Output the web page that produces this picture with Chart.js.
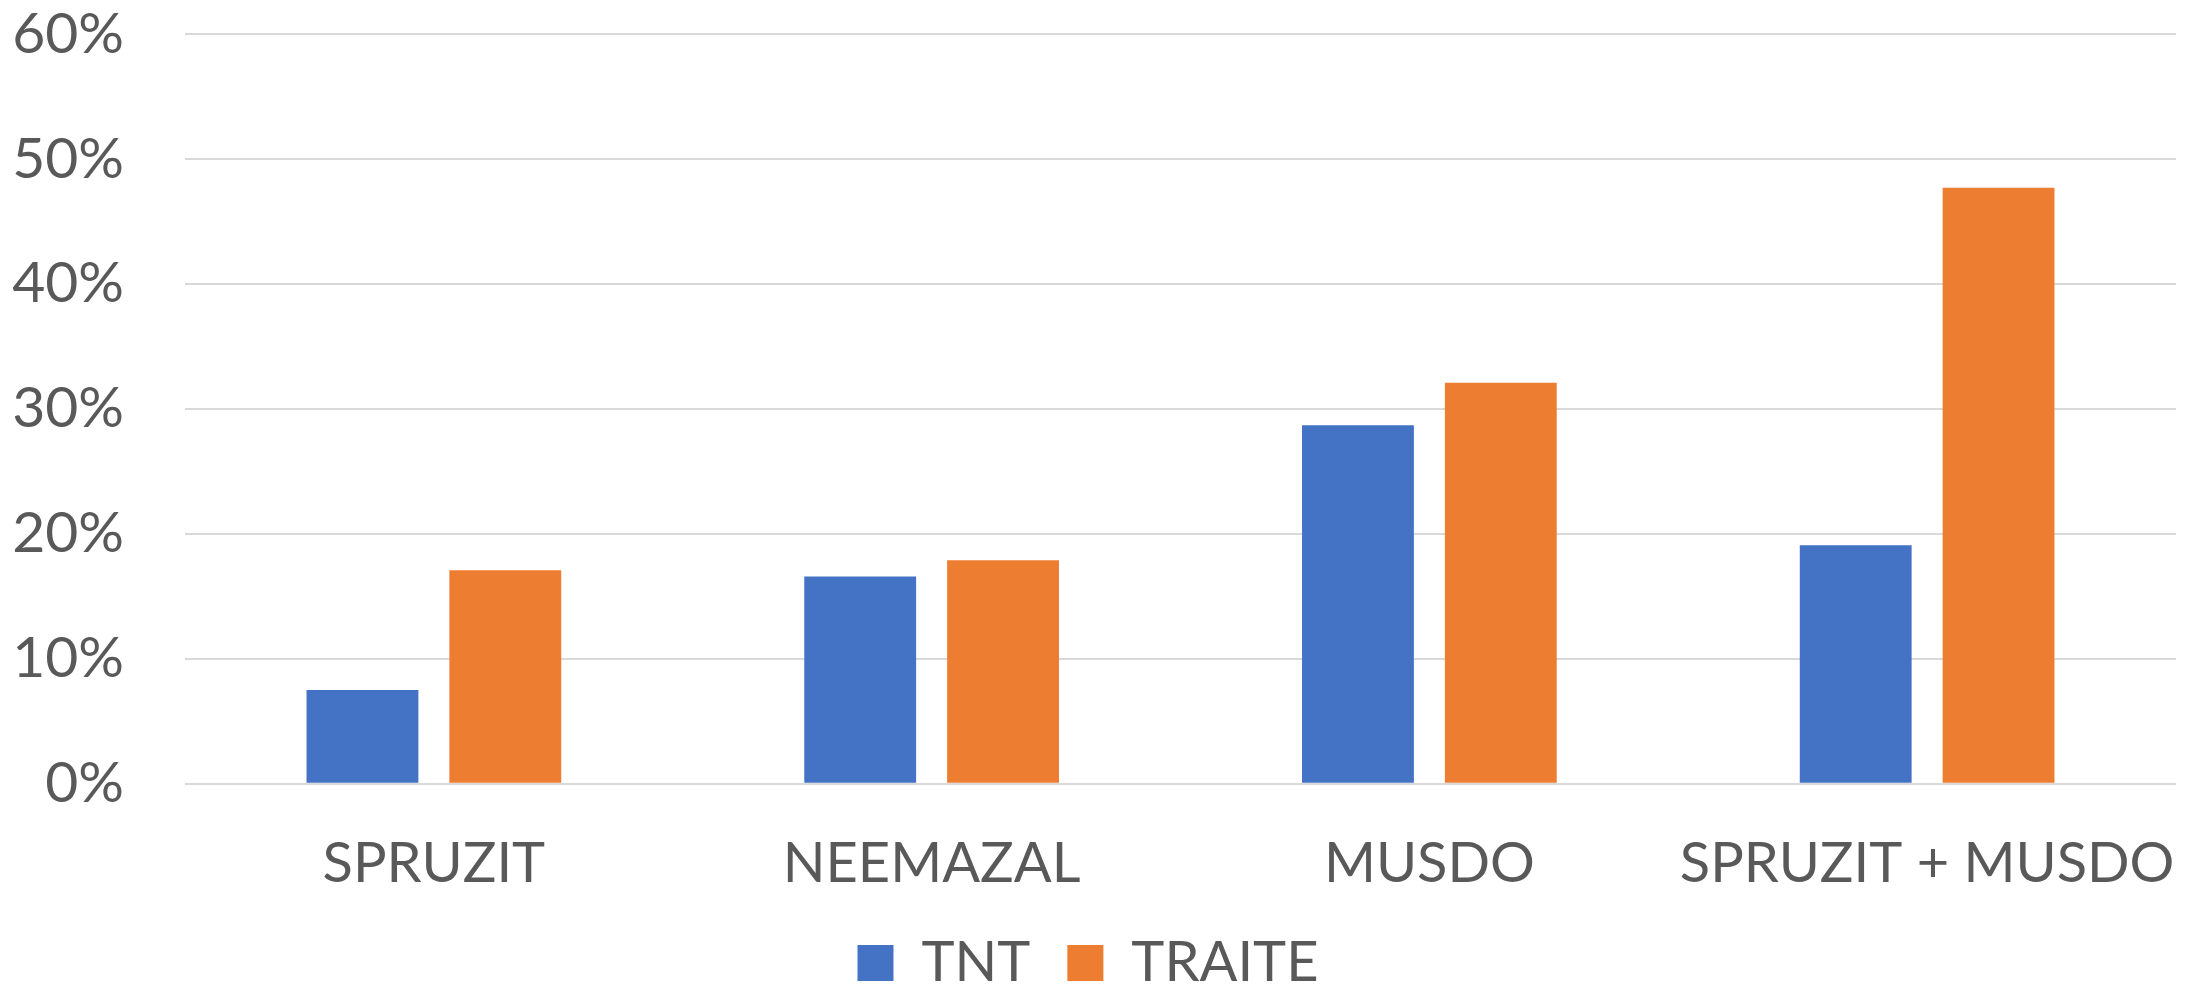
<!DOCTYPE html>
<html>
<head>
<meta charset="utf-8">
<script src="https://cdn.jsdelivr.net/npm/chart.js@4/dist/chart.umd.min.js"></script>
<style>
  html, body { margin: 0; padding: 0; background: #fff; }
  #wrap { width: 2190px; height: 991px; position: relative; }
</style>
</head>
<body>
<div id="wrap"><canvas id="barChart"></canvas></div>
<script>
const categories = ['SPRUZIT', 'NEEMAZAL', 'MUSDO', 'SPRUZIT + MUSDO'];
const tntValues = [7.5, 16.6, 28.7, 19.1];
const traiteValues = [17.1, 17.9, 32.1, 47.7];
const yTicks = [0, 10, 20, 30, 40, 50, 60];

const textColor = '#595959';
const fontFamily = 'Lato, "Open Sans", sans-serif';

const ctx = document.getElementById('barChart').getContext('2d');
new Chart(ctx, {
  type: 'bar',
  data: {
    labels: categories,
    datasets: [{
      label: 'TNT',
      data: tntValues,
      backgroundColor: '#4472C4'
    }, {
      label: 'TRAITE',
      data: traiteValues,
      backgroundColor: '#ED7D31'
    }]
  },
  options: {
    responsive: true,
    maintainAspectRatio: false,
    animation: false,
    devicePixelRatio: 1,
    categoryPercentage: 0.574,
    barPercentage: 0.783,
    layout: {
      padding: { top: 0, right: 14, bottom: -10, left: 0 }
    },
    scales: {
      x: {
        // transparent ticks push the labels down without adding side padding
        grid: {
          display: true,
          drawOnChartArea: false,
          color: 'transparent',
          tickColor: 'transparent',
          tickLength: 47
        },
        border: { display: false },
        ticks: {
          color: textColor,
          padding: 0,
          maxRotation: 0,
          minRotation: 0,
          autoSkip: false,
          font: { family: fontFamily, size: 56 }
        }
      },
      y: {
        min: 0,
        max: yTicks[yTicks.length - 1],
        afterBuildTicks: function (scale) {
          scale.ticks = yTicks.map(v => ({ value: v }));
        },
        afterFit: function (scale) {
          scale.width = 185;
        },
        border: { display: false },
        grid: {
          color: '#d9d9d9',
          lineWidth: 2,
          drawTicks: true,
          tickLength: 61,
          tickColor: 'transparent'
        },
        ticks: {
          color: textColor,
          padding: 0,
          font: { family: fontFamily, size: 57 },
          callback: function (value) {
            return value + '%';
          }
        }
      }
    },
    plugins: {
      legend: {
        position: 'bottom',
        labels: {
          color: textColor,
          boxWidth: 36,
          boxHeight: 36,
          padding: 37,
          font: { family: fontFamily, size: 56 }
        }
      },
      tooltip: { enabled: false }
    }
  }
});
</script>
</body>
</html>
